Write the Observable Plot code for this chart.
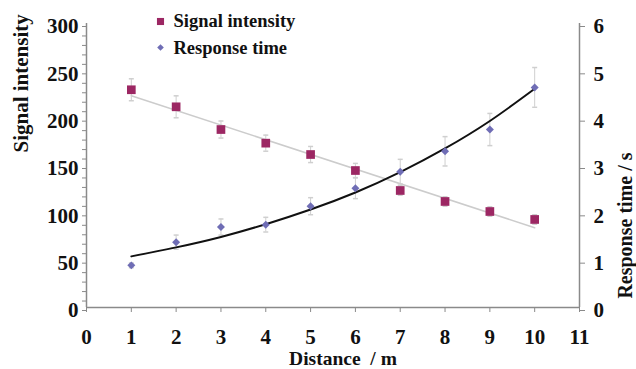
<!DOCTYPE html>
<html><head><meta charset="utf-8">
<script src="https://cdn.jsdelivr.net/npm/d3@7"></script>
<script src="https://cdn.jsdelivr.net/npm/@observablehq/plot@0.6"></script>
<style>
body{margin:0;background:#fff}
#chart svg{overflow:visible}
</style>
</head><body><div id="chart"></div>
<script>
// ---- data ----
const distance = [1, 2, 3, 4, 5, 6, 7, 8, 9, 10];
const signal = [230, 212, 188, 173.6, 161.6, 144.7, 123.6, 112, 101.4, 93];
const signalErr = [11.6, 11.6, 9, 8.5, 8.5, 7.5, 5, 5, 5, 5];
const response = [0.89, 1.38, 1.70, 1.75, 2.14, 2.52, 2.87, 3.30, 3.76, 4.65];
const responseErr = [0.05, 0.15, 0.17, 0.155, 0.18, 0.22, 0.26, 0.31, 0.34, 0.42];
const responseFit = [1.08, 1.27, 1.49, 1.76, 2.07, 2.43, 2.86, 3.36, 3.94, 4.62];
const xTicks = [0, 1, 2, 3, 4, 5, 6, 7, 8, 9, 10, 11];
const leftTicks = d3.range(0, 301, 10);
const leftLabels = [0, 50, 100, 150, 200, 250, 300];
const rightTicks = [0, 1, 2, 3, 4, 5, 6];
const seriesNames = ["Signal intensity", "Response time"];
const xTitle = "Distance  / m";
const yTitle = "Signal intensity";
const y2Title = "Response time / s";

// right axis (0–6 s) mapped onto the left scale (0–300)
const K = 300 / 6;

const rows = distance.map((x, i) => ({
  x, s: signal[i], se: signalErr[i],
  r: response[i] * K, re: responseErr[i] * K, rf: responseFit[i] * K
}));

const cap = {draw(ctx) { ctx.moveTo(-2.5, 0); ctx.lineTo(2.5, 0); }};
const SQ = "#9c2763", DI = "#6f6db5", ERR = "#cfcfcf", AX = "#8a8a8a";
const font = "'Liberation Serif', 'Times New Roman', serif";

const chart = Plot.plot({
  width: 636, height: 369,
  marginLeft: 86, marginRight: 57, marginTop: 23, marginBottom: 62,
  x: {domain: [0, 11]},
  y: {domain: [0, 300]},
  style: {fontFamily: font, fontWeight: "bold", fontSize: "21px", background: "#fff", color: "#111"},
  marks: [
    // axis lines
    Plot.ruleY([0], {stroke: AX, strokeWidth: 1.5}),
    Plot.ruleX([0, 11], {stroke: AX, strokeWidth: 1.5}),
    Plot.axisX({ticks: xTicks, tickSize: 5, tickPadding: 17, stroke: AX, label: null, fontSize: 21}),
    Plot.axisY({anchor: "left", ticks: leftTicks, tickFormat: d => leftLabels.includes(d) ? d : "",
      tickSize: 4, tickPadding: 4, dy: 3, stroke: AX, label: null, fontSize: 21}),
    Plot.axisY({anchor: "right", ticks: rightTicks.map(v => v * K), tickFormat: d => d / K,
      tickSize: 5, tickPadding: 9, dy: 3, stroke: AX, label: null, fontSize: 21}),

    // signal intensity: linear fit, error bars, squares
    Plot.linearRegressionY(rows, {x: "x", y: "s", ci: 0, stroke: "#cccccc", strokeWidth: 1.5}),
    Plot.ruleX(rows, {x: "x", y1: d => d.s - d.se, y2: d => d.s + d.se, stroke: ERR}),
    Plot.dot(rows, {x: "x", y: d => d.s - d.se, symbol: cap, stroke: ERR}),
    Plot.dot(rows, {x: "x", y: d => d.s + d.se, symbol: cap, stroke: ERR}),

    // response time: error bars, fit curve, diamonds
    Plot.ruleX(rows, {x: "x", y1: d => d.r - d.re, y2: d => d.r + d.re, stroke: ERR}),
    Plot.dot(rows, {x: "x", y: d => d.r - d.re, symbol: cap, stroke: ERR}),
    Plot.dot(rows, {x: "x", y: d => d.r + d.re, symbol: cap, stroke: ERR}),
    Plot.line(rows, {x: "x", y: "rf", curve: "natural", stroke: "#111", strokeWidth: 2}),

    Plot.dot(rows, {x: "x", y: "s", symbol: "square", r: 4.9, fill: SQ}),
    Plot.dot(rows, {x: "x", y: "r", symbol: "diamond2", r: 3.6, fill: DI}),

    // legend
    Plot.dot([seriesNames[0]], {frameAnchor: "top-left", dx: 74, dy: -2, symbol: "square", r: 4, fill: SQ}),
    Plot.dot([seriesNames[1]], {frameAnchor: "top-left", dx: 74, dy: 24, symbol: "diamond2", r: 3, fill: DI}),
    Plot.text([seriesNames[0]], {text: d => d, frameAnchor: "top-left", dx: 87, dy: -2,
      textAnchor: "start", lineAnchor: "middle", fontSize: 18.5}),
    Plot.text([seriesNames[1]], {text: d => d, frameAnchor: "top-left", dx: 87, dy: 25,
      textAnchor: "start", lineAnchor: "middle", fontSize: 18.5}),

    // axis titles
    Plot.text([xTitle], {text: d => d, frameAnchor: "bottom", dx: 10, dy: 51, lineAnchor: "middle", fontSize: 19.5}),
    Plot.text([yTitle], {text: d => d, frameAnchor: "left", rotate: -90, dx: -65, dy: -13, lineAnchor: "middle", fontSize: 21}),
    Plot.text([y2Title], {text: d => d, frameAnchor: "right", rotate: -90, dx: 46, dy: -13, lineAnchor: "middle", fontSize: 20})
  ]
});
chart.querySelectorAll("text").forEach(t => t.style.whiteSpace = "pre");
document.getElementById("chart").append(chart);
</script>
</body></html>
